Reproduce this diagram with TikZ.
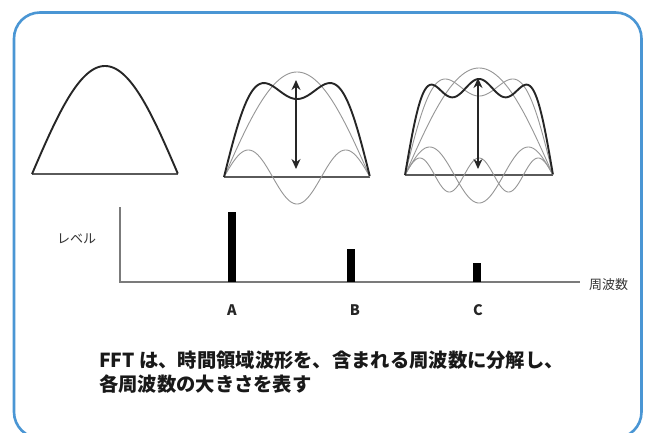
\documentclass[tikz,border=0pt]{standalone}
\usepackage{fontspec}
\newfontfamily\jp{Noto Sans CJK JP}
\usetikzlibrary{arrows.meta}
\definecolor{frameblue}{RGB}{74,150,212}
\definecolor{wavegray}{RGB}{150,150,150}
\definecolor{basegray}{RGB}{90,90,90}
\definecolor{textgray}{RGB}{50,50,50}
\tikzset{
  frame/.style={draw=frameblue,line width=2.6pt,rounded corners=26pt},
  sumwave/.style={draw=black!85,line width=1.9pt,line join=round},
  partwave/.style={draw=wavegray,line width=0.9pt},
  baseline/.style={draw=basegray,line width=1.4pt},
  axisline/.style={draw=basegray!80,line width=1.1pt},
  dblarrow/.style={draw=black!85,line width=1.4pt,{Stealth[length=10pt,width=9pt]}-{Stealth[length=10pt,width=9pt]}},
  bar/.style={fill=black,draw=none},
  axlabel/.style={font=\jp\fontsize{13}{15}\selectfont,text=textgray,inner sep=0pt},
  barlabel/.style={font=\jp\bfseries\fontsize{14.5}{16}\selectfont,text=black!85,inner sep=0pt},
  caption/.style={font=\jp\bfseries\fontsize{19.3}{24}\selectfont,text=black!90,inner sep=0pt,align=left}
}
\begin{document}
\begin{tikzpicture}[x=1pt,y=-1pt]
\clip (0,0) rectangle (649,432);
\fill[white] (0,0) rectangle (649,432);
\draw[frame] (14,12.5) rectangle (641.5,438);

% panel 1
\draw[baseline] (32,174) -- (178,174);
\draw[sumwave] plot[domain=0:1,samples=120] ({32+146*\x},{174-108*sin(180*\x)});

% panel 2
\draw[baseline] (224,177) -- (370,177);
\draw[partwave] plot[domain=0:1,samples=120] ({224+146*\x},{177-105*sin(180*\x)});
\draw[partwave] plot[domain=0:1,samples=150] ({224+146*\x},{177-27*sin(540*\x)});
\draw[sumwave] plot[domain=0:1,samples=150] ({224+146*\x},{177-105*sin(180*\x)-27*sin(540*\x)});
\coordinate (a2t) at (296,80);
\coordinate (a2b) at (296,169);
\draw[dblarrow] (a2t) -- (a2b);

% panel 3
\draw[baseline] (405,175) -- (553,175);
\draw[partwave] plot[domain=0:1,samples=120] ({405+148*\x},{175-107*sin(180*\x)});
\draw[partwave] plot[domain=0:1,samples=150] ({405+148*\x},{175-28*sin(540*\x)});
\draw[partwave] plot[domain=0:1,samples=200] ({405+148*\x},{175-17*sin(900*\x)});
\draw[partwave] plot[domain=0:1,samples=200] ({405+148*\x},{175-107*sin(180*\x)-28*sin(540*\x)});
\draw[sumwave] plot[domain=0:1,samples=250] ({405+148*\x},{175-107*sin(180*\x)-28*sin(540*\x)-17*sin(900*\x)});
\coordinate (a3t) at (478,78);
\coordinate (a3b) at (478,169);
\draw[dblarrow] (a3t) -- (a3b);

% spectrum
\coordinate (orig) at (120,282);
\coordinate (ytop) at (120,207);
\coordinate (xend) at (580,282);
\draw[axisline] (ytop) -- (orig) -- (xend);
\fill[bar] (228,212) rectangle (235.5,282);
\fill[bar] (347,249) rectangle (354.5,282);
\fill[bar] (473,263) rectangle (480.5,282);
\node[axlabel,anchor=west] (lvl) at (57,239) {レベル};
\node[axlabel,anchor=west] (freq) at (589,285) {周波数};
\node[barlabel] (la) at (232,310) {A};
\node[barlabel] (lb) at (355,310) {B};
\node[barlabel] (lc) at (478,310) {C};

\node[caption,anchor=north west] (cap) at (99,351) {FFT は、時間領域波形を、含まれる周波数に分解し、\\各周波数の大きさを表す};
\end{tikzpicture}
\end{document}
